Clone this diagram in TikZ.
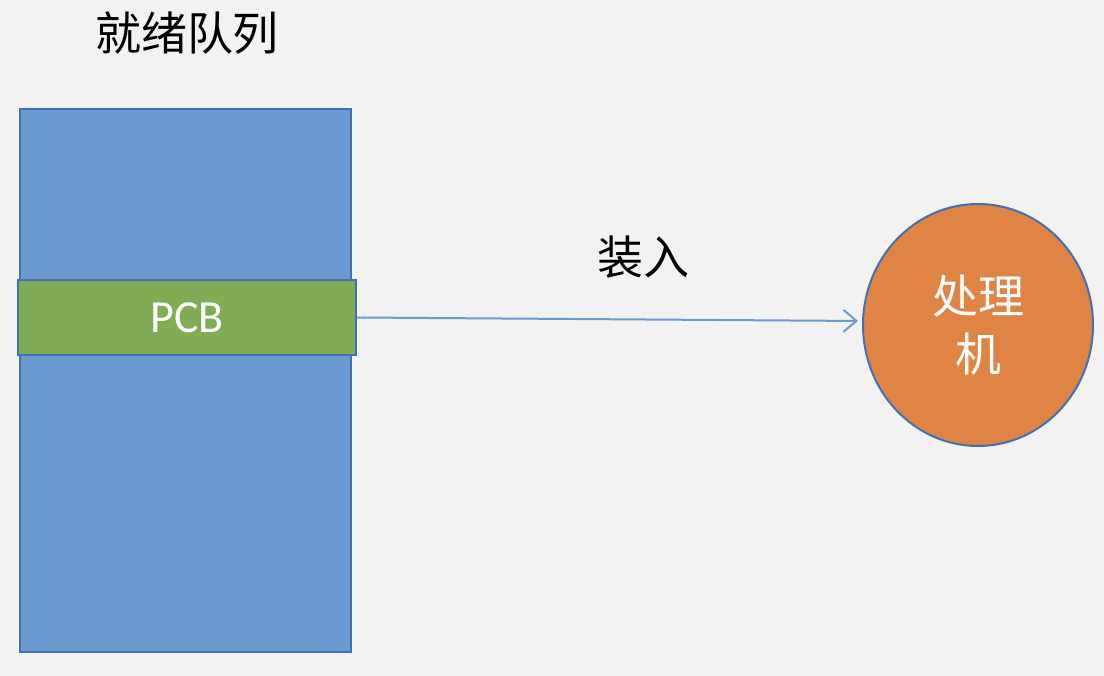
\documentclass[tikz,border=0pt]{standalone}
\usepackage{fontspec}
\setmainfont{Carlito}
\newfontfamily\cjk{Noto Sans CJK SC}
\usetikzlibrary{arrows.meta,shapes.geometric}
\definecolor{bgc}{RGB}{242,242,242}
\definecolor{qblue}{RGB}{106,154,207}
\definecolor{qedge}{RGB}{65,113,180}
\definecolor{pgreen}{RGB}{128,172,86}
\definecolor{porange}{RGB}{224,132,70}
\definecolor{arrowc}{RGB}{106,154,207}
\tikzset{
  queuebox/.style={draw=qedge, fill=qblue, line width=2pt, inner sep=0pt},
  pcbbox/.style={draw=qedge, fill=pgreen, line width=2pt, inner sep=0pt, text=white, font=\fontsize{46}{54}\selectfont},
  cpu/.style={ellipse, draw=qedge, fill=porange, line width=2pt, inner sep=0pt, text=white, align=center, font=\cjk\fontsize{46}{58}\selectfont},
  lbl/.style={text=black, font=\cjk\fontsize{46}{54}\selectfont, inner sep=0pt},
  loadarrow/.style={draw=arrowc, line width=2pt, -{Straight Barb[length=13pt,width=22pt,line width=2pt]}}
}
\begin{document}
\begin{tikzpicture}[x=1pt,y=-1pt]
\fill[bgc] (0,0) rectangle (1104,676);
\useasboundingbox (0,0) rectangle (1104,676);
\node[queuebox, minimum width=331pt, minimum height=543pt] (queue) at (185.5,380.5) {};
\node[pcbbox, minimum width=338pt, minimum height=75pt] (pcb) at (187,317.5) {PCB};
\node[cpu, minimum width=230pt, minimum height=242pt] (cpu) at (978,325) {处理\\机};
\node[lbl] (title) at (187,33) {就绪队列};
\node[lbl] (load) at (643,257) {装入};
\draw[loadarrow, shorten >=4pt] (pcb.east) -- ([yshift=4pt]cpu.west);
\end{tikzpicture}
\end{document}
